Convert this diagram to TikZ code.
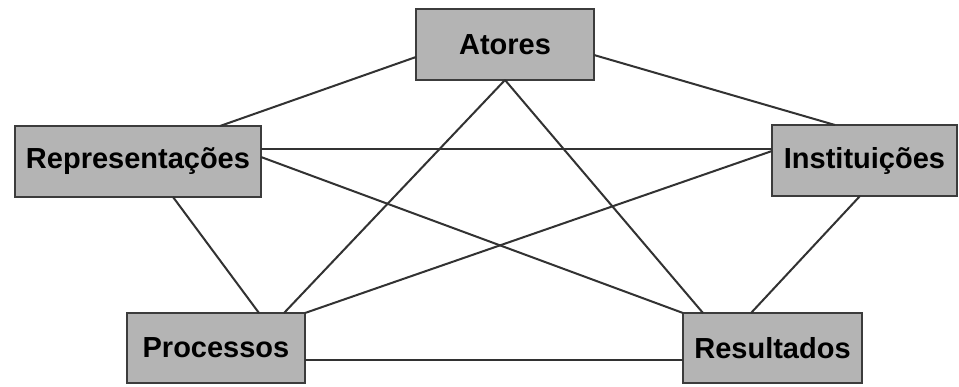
\documentclass[tikz,border=0pt]{standalone}
\usepackage{fontspec}
\setmainfont{Liberation Sans}
\definecolor{boxfill}{RGB}{180,180,180}
\definecolor{boxline}{RGB}{60,60,60}
\definecolor{edgecol}{RGB}{50,50,50}
\begin{document}
\begin{tikzpicture}[x=1pt,y=-1pt,
  box/.style={draw=boxline,fill=boxfill,line width=2.5pt,outer sep=0pt,inner sep=0pt,
    font=\fontsize{29}{34}\selectfont\bfseries,text=black},
  link/.style={draw=edgecol,line width=2pt}]
\useasboundingbox (0,0) rectangle (959,386);
\fill[white] (0,0) rectangle (959,386);
% edges first (behind boxes)
\path (505,44.5) node[box,minimum width=178pt,minimum height=71pt] (A) {Atores};
\path (138,161.5) node[box,minimum width=246pt,minimum height=71pt] (R) {Representações};
\path (864.5,160.5) node[box,minimum width=185pt,minimum height=71pt] (I) {Instituições};
\path (216,348) node[box,minimum width=178pt,minimum height=70pt] (P) {Processos};
\path (772.5,348) node[box,minimum width=179pt,minimum height=70pt] (S) {Resultados};
\begin{scope}[on background layer/.try]
\end{scope}
\draw[link] ([yshift=-12.5pt]A.west) -- ([xshift=82pt]R.north);
\draw[link] ([yshift=-10.5pt]A.east) -- ([xshift=-29.5pt]I.north);
\draw[link] (A.south) -- ([xshift=68pt]P.north);
\draw[link] (A.south) -- ([xshift=-69.5pt]S.north);
\draw[link] ([yshift=12.5pt]R.east) -- ([yshift=11.5pt]I.west);
\draw[link] ([xshift=35pt]R.south) -- ([xshift=43pt]P.north);
\draw[link] ([yshift=4.5pt]R.east) -- (S.north west);
\draw[link] ([yshift=9.5pt]I.west) -- (P.north east);
\draw[link] ([xshift=-4.5pt]I.south) -- ([xshift=-21.5pt]S.north);
\draw[link] ([yshift=-12pt]P.east) -- ([yshift=-12pt]S.west);
\end{tikzpicture}
\end{document}
